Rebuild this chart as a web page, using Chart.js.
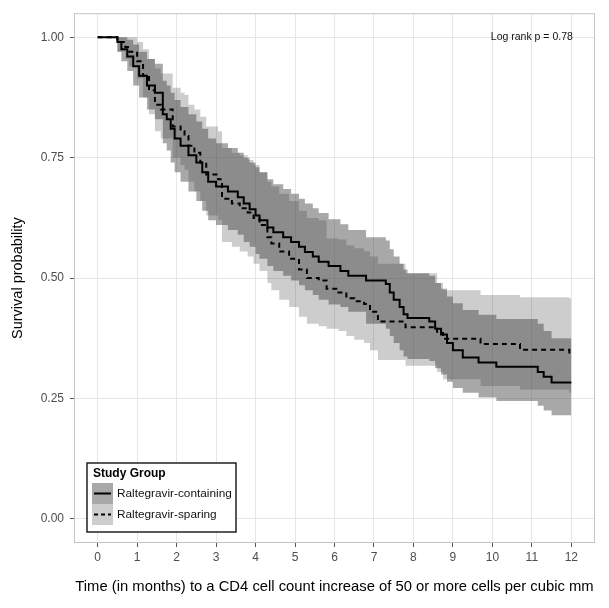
<!DOCTYPE html>
<html>
<head>
<meta charset="utf-8">
<script src="https://cdn.jsdelivr.net/npm/chart.js@4.4.1/dist/chart.umd.min.js"></script>
<style>
  html, body { margin: 0; padding: 0; background: #fff; }
  #wrap { width: 609px; height: 608px; }
</style>
</head>
<body>
<div id="wrap"><canvas id="kmChart" width="609" height="608"></canvas></div>
<script>
// Raltegravir-containing group (solid line, darker band)
const containingTime  = [0, 0.5, 0.6, 0.75, 0.9, 1.05, 1.25, 1.45, 1.65, 1.75, 1.85, 1.95, 2.1, 2.3, 2.5, 2.65, 2.8, 3.0, 3.3, 3.55, 3.7, 3.85, 4.0, 4.1, 4.3, 4.45, 4.7, 4.9, 5.1, 5.25, 5.45, 5.6, 5.85, 6.15, 6.35, 6.8, 7.3, 7.4, 7.5, 7.65, 7.75, 7.85, 8.4, 8.55, 8.7, 8.85, 9.0, 9.25, 9.65, 10.1, 11.15, 11.3, 11.5, 12];
const containingSurv  = [1, 0.99, 0.975, 0.96, 0.94, 0.92, 0.90, 0.885, 0.84, 0.83, 0.81, 0.79, 0.775, 0.755, 0.74, 0.72, 0.70, 0.69, 0.68, 0.668, 0.655, 0.643, 0.63, 0.62, 0.605, 0.595, 0.585, 0.575, 0.565, 0.554, 0.545, 0.534, 0.525, 0.515, 0.505, 0.495, 0.488, 0.47, 0.455, 0.44, 0.425, 0.417, 0.41, 0.395, 0.383, 0.365, 0.35, 0.335, 0.325, 0.316, 0.305, 0.295, 0.283, 0.283];
const containingLower = [1, 0.97, 0.95, 0.93, 0.90, 0.875, 0.85, 0.83, 0.78, 0.765, 0.74, 0.72, 0.70, 0.68, 0.66, 0.64, 0.62, 0.61, 0.60, 0.59, 0.575, 0.565, 0.55, 0.54, 0.525, 0.515, 0.505, 0.495, 0.485, 0.475, 0.465, 0.455, 0.445, 0.44, 0.43, 0.405, 0.395, 0.38, 0.365, 0.35, 0.337, 0.332, 0.328, 0.313, 0.30, 0.285, 0.272, 0.262, 0.252, 0.245, 0.235, 0.225, 0.215, 0.215];
const containingUpper = [1, 1, 1, 0.995, 0.985, 0.97, 0.955, 0.945, 0.91, 0.90, 0.885, 0.87, 0.855, 0.84, 0.825, 0.81, 0.79, 0.78, 0.77, 0.76, 0.75, 0.74, 0.73, 0.72, 0.705, 0.695, 0.685, 0.675, 0.665, 0.655, 0.645, 0.635, 0.622, 0.612, 0.6, 0.585, 0.578, 0.56, 0.545, 0.53, 0.518, 0.51, 0.505, 0.49, 0.478, 0.462, 0.448, 0.434, 0.424, 0.415, 0.405, 0.39, 0.375, 0.375];

// Raltegravir-sparing group (dashed line, lighter band)
const sparingTime  = [0, 0.5, 0.7, 0.8, 1.0, 1.15, 1.3, 1.45, 1.6, 1.9, 2.1, 2.2, 2.3, 2.45, 2.6, 2.75, 3.05, 3.15, 3.4, 3.6, 3.8, 3.95, 4.1, 4.3, 4.4, 4.6, 4.85, 5.1, 5.3, 5.6, 5.8, 6.1, 6.3, 6.5, 6.75, 6.9, 7.1, 7.8, 8.6, 8.75, 9.7, 10.7, 11.95, 12];
const sparingSurv  = [1, 0.99, 0.98, 0.97, 0.95, 0.92, 0.89, 0.86, 0.85, 0.815, 0.805, 0.795, 0.775, 0.76, 0.74, 0.715, 0.705, 0.665, 0.655, 0.645, 0.636, 0.625, 0.61, 0.585, 0.572, 0.555, 0.54, 0.518, 0.50, 0.495, 0.478, 0.47, 0.458, 0.452, 0.446, 0.43, 0.41, 0.398, 0.386, 0.374, 0.363, 0.351, 0.34, 0.34];
const sparingLower = [1, 0.97, 0.955, 0.94, 0.915, 0.875, 0.84, 0.805, 0.79, 0.75, 0.735, 0.725, 0.70, 0.68, 0.66, 0.63, 0.62, 0.575, 0.565, 0.555, 0.545, 0.53, 0.515, 0.49, 0.475, 0.455, 0.44, 0.42, 0.405, 0.40, 0.395, 0.39, 0.38, 0.372, 0.365, 0.35, 0.33, 0.318, 0.305, 0.29, 0.276, 0.268, 0.262, 0.262];
const sparingUpper = [1, 1, 1, 1, 0.99, 0.975, 0.955, 0.935, 0.925, 0.895, 0.885, 0.88, 0.86, 0.85, 0.835, 0.815, 0.805, 0.77, 0.76, 0.755, 0.745, 0.735, 0.72, 0.70, 0.69, 0.675, 0.66, 0.64, 0.625, 0.62, 0.582, 0.58, 0.568, 0.562, 0.556, 0.545, 0.53, 0.51, 0.49, 0.475, 0.465, 0.46, 0.458, 0.458];

const xTicks = [0, 1, 2, 3, 4, 5, 6, 7, 8, 9, 10, 11, 12];
const yTicks = [0, 0.25, 0.5, 0.75, 1];
const groupNames = ["Raltegravir-containing", "Raltegravir-sparing"];
const logRankText = "Log rank p = 0.78";

const FONT = "'Liberation Sans', Arial, sans-serif";
const darkFill = "rgba(62,62,62,0.45)";
const lightFill = "rgba(62,62,62,0.26)";

function pts(times, vals) {
  return times.map((t, i) => ({ x: t, y: vals[i] }));
}

function bandSet(label, times, vals, fill, bg, order) {
  return {
    label: label,
    data: pts(times, vals),
    stepped: true,
    borderWidth: 0,
    borderColor: "rgba(0,0,0,0)",
    backgroundColor: bg,
    pointRadius: 0,
    fill: fill,
    order: order,
  };
}

// panel border, annotation and legend box
const extras = {
  id: "extras",
  beforeDatasetsDraw(chart) {
    const a = chart.chartArea;
    const ctx = chart.ctx;
    ctx.save();
    ctx.strokeStyle = "#c4c4c4";
    ctx.lineWidth = 1;
    ctx.strokeRect(a.left + 0.5, a.top + 0.5, a.right - a.left - 1, a.bottom - a.top - 1);
    ctx.restore();
  },
  afterDraw(chart) {
    const ctx = chart.ctx;
    const xs = chart.scales.x, ys = chart.scales.y;
    ctx.save();
    // log rank label
    ctx.fillStyle = "#111";
    ctx.font = "10.5px " + FONT;
    ctx.textAlign = "center";
    ctx.textBaseline = "middle";
    ctx.fillText(logRankText, xs.getPixelForValue(11), ys.getPixelForValue(1));

    // legend
    const lx = 87, ly = 463, lw = 149, lh = 69;
    ctx.fillStyle = "#fff";
    ctx.fillRect(lx, ly, lw, lh);
    ctx.strokeStyle = "#222";
    ctx.lineWidth = 1.5;
    ctx.strokeRect(lx, ly, lw, lh);

    ctx.fillStyle = "#000";
    ctx.textAlign = "left";
    ctx.font = "bold 12px " + FONT;
    ctx.fillText("Study Group", 93, 474);

    const keys = [
      { fill: darkFill, dash: [] },
      { fill: lightFill, dash: [4, 3] },
    ];
    keys.forEach((k, i) => {
      const ky = 483 + i * 21;
      ctx.fillStyle = "#fff";
      ctx.fillRect(92, ky, 21, 21);
      ctx.fillStyle = k.fill;
      ctx.fillRect(92, ky, 21, 21);
      ctx.strokeStyle = "#000";
      ctx.lineWidth = 2;
      ctx.setLineDash(k.dash);
      ctx.beginPath();
      ctx.moveTo(94, ky + 10.5);
      ctx.lineTo(111, ky + 10.5);
      ctx.stroke();
      ctx.setLineDash([]);
      ctx.fillStyle = "#111";
      ctx.font = "11.8px " + FONT;
      ctx.fillText(groupNames[i], 117, ky + 11);
    });
    ctx.restore();
  },
};

const ctx = document.getElementById("kmChart").getContext("2d");
new Chart(ctx, {
  type: "line",
  data: {
    datasets: [
      {
        label: groupNames[0],
        data: pts(containingTime, containingSurv),
        stepped: true,
        borderColor: "#000",
        borderWidth: 2,
        pointRadius: 0,
        fill: false,
        order: 0,
      },
      {
        label: groupNames[1],
        data: pts(sparingTime, sparingSurv),
        stepped: true,
        borderColor: "#000",
        borderWidth: 2,
        borderDash: [5, 4],
        pointRadius: 0,
        fill: false,
        order: 0,
      },
      bandSet("containing lower", containingTime, containingLower, false, darkFill, 2),
      bandSet("containing upper", containingTime, containingUpper, { target: 2 }, darkFill, 2),
      bandSet("sparing lower", sparingTime, sparingLower, false, lightFill, 1),
      bandSet("sparing upper", sparingTime, sparingUpper, { target: 4 }, lightFill, 1),
    ],
  },
  options: {
    responsive: false,
    animation: false,
    layout: { padding: { top: 9, right: 14, left: 0, bottom: 0 } },
    plugins: {
      legend: { display: false },
      tooltip: { enabled: false },
    },
    scales: {
      x: {
        type: "linear",
        min: -0.6,
        max: 12.6,
        afterBuildTicks: (s) => { s.ticks = xTicks.map((v) => ({ value: v })); },
        afterFit: (s) => { s.height = 65; },
        ticks: { color: "#4d4d4d", font: { family: FONT, size: 12 }, padding: 3, maxRotation: 0 },
        grid: { color: "#e6e6e6", lineWidth: 1, tickColor: "#555", tickLength: 4 },
        border: { display: false },
        title: {
          display: true,
          text: "Time (in months) to a CD4 cell count increase of 50 or more cells per cubic mm",
          color: "#000",
          font: { family: FONT, size: 14.8 },
          padding: { top: 0, bottom: 12 },
        },
      },
      y: {
        min: -0.05,
        max: 1.05,
        afterBuildTicks: (s) => { s.ticks = yTicks.map((v) => ({ value: v })); },
        afterFit: (s) => { s.width = 74; },
        ticks: {
          color: "#4d4d4d",
          font: { family: FONT, size: 12 },
          padding: 6,
          callback: (v) => Number(v).toFixed(2),
        },
        grid: { color: "#e6e6e6", lineWidth: 1, tickColor: "#555", tickLength: 4 },
        border: { display: false },
        title: {
          display: true,
          text: "Survival probability",
          color: "#000",
          font: { family: FONT, size: 14.5 },
          padding: { top: 9, bottom: 0 },
        },
      },
    },
  },
  plugins: [extras],
});
</script>
</body>
</html>
